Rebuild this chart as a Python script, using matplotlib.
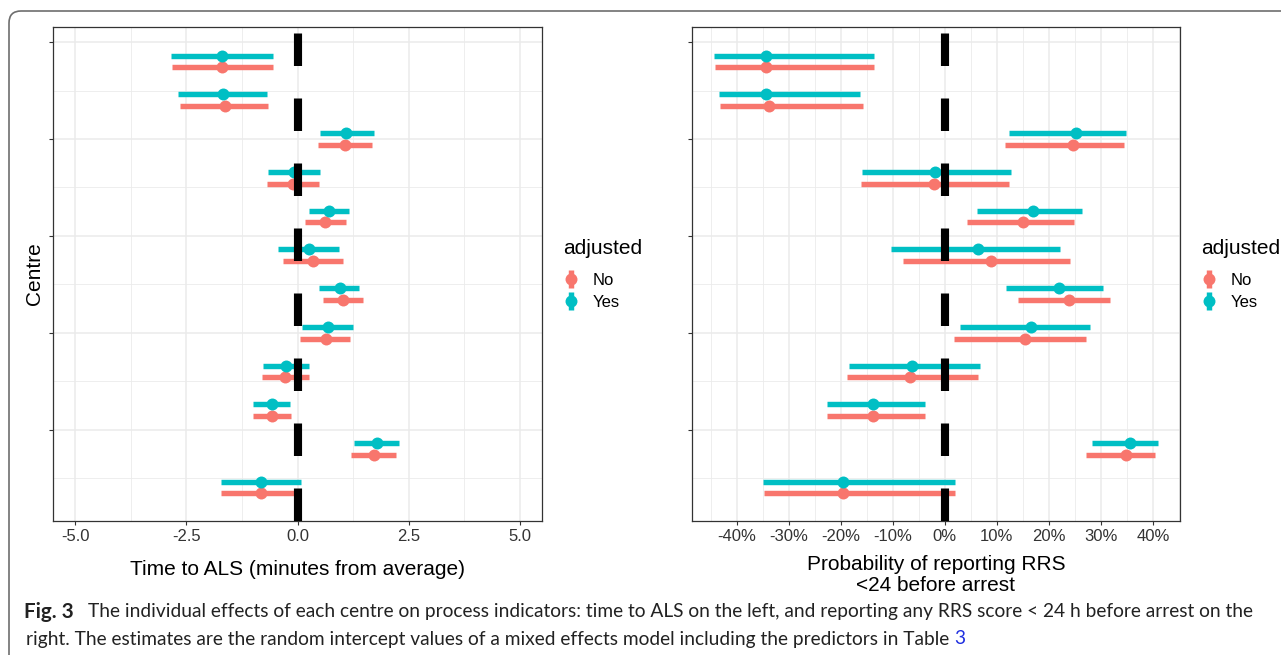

# Centre effects forest plot ---------------------------------------------

# Libraries
import numpy as np
import matplotlib
matplotlib.use("Agg")
import matplotlib.pyplot as plt

from matplotlib.lines import Line2D
from matplotlib.patches import FancyBboxPatch
from matplotlib.transforms import IdentityTransform


# Data (centres listed top to bottom) ------------------------------------
centres = [12, 11, 10, 9, 8, 7, 6, 5, 4, 3, 2, 1]
groups = ["No", "Yes"]

# Time to ALS (minutes from average)
als_no = [-1.69, -1.64, 1.07, -0.09, 0.61, 0.34, 1.02, 0.63, -0.27, -0.57, 1.71, -0.82]
als_no_lo = [-2.82, -2.64, 0.46, -0.69, 0.16, -0.33, 0.57, 0.06, -0.80, -0.99, 1.20, -1.72]
als_no_hi = [-0.56, -0.66, 1.67, 0.49, 1.08, 1.03, 1.48, 1.19, 0.26, -0.15, 2.21, 0.07]
als_yes = [-1.70, -1.68, 1.10, -0.07, 0.71, 0.26, 0.95, 0.68, -0.26, -0.57, 1.78, -0.82]
als_yes_lo = [-2.85, -2.68, 0.50, -0.67, 0.25, -0.43, 0.48, 0.10, -0.78, -0.99, 1.27, -1.73]
als_yes_hi = [-0.56, -0.69, 1.71, 0.51, 1.16, 0.94, 1.39, 1.25, 0.26, -0.16, 2.28, 0.08]

# Probability of reporting RRS < 24 h before arrest (%)
rrs_no = [-34.4, -33.8, 24.6, -2.1, 15.1, 8.9, 23.8, 15.5, -6.7, -13.8, 34.8, -19.5]
rrs_no_lo = [-44.2, -43.3, 11.6, -16.2, 4.2, -8.1, 14.0, 1.7, -18.8, -22.7, 27.1, -34.8]
rrs_no_hi = [-13.6, -15.7, 34.4, 12.4, 24.8, 24.0, 31.8, 27.1, 6.4, -3.8, 40.4, 1.9]
rrs_yes = [-34.4, -34.3, 25.3, -1.9, 17.0, 6.4, 22.0, 16.5, -6.3, -13.8, 35.6, -19.6]
rrs_yes_lo = [-44.4, -43.5, 12.4, -16.0, 6.1, -10.4, 11.8, 2.9, -18.5, -22.7, 28.2, -34.9]
rrs_yes_hi = [-13.6, -16.4, 34.8, 12.7, 26.4, 22.1, 30.4, 27.9, 6.7, -3.8, 40.9, 2.0]

als_ticks = [-5.0, -2.5, 0.0, 2.5, 5.0]
rrs_ticks = [-40, -30, -20, -10, 0, 10, 20, 30, 40]

caption_1 = ("The individual effects of each centre on process indicators: time to ALS "
             "on the left, and reporting any RRS score < 24 h before arrest on the")
caption_2 = ("right. The estimates are the random intercept values of a mixed effects "
             "model including the predictors in Table ")


# Setup ------------------------------------------------------------------
RED = "#F8766D"
TEAL = "#00BFC4"
GRID = "#EBEBEB"
DARK = "#333333"

plt.rcParams["font.family"] = "Liberation Sans"
plt.rcParams["axes.unicode_minus"] = False

W, H = 1281, 655
fig = plt.figure(figsize=(W / 100, H / 100), dpi=100)


def px_axes(x0, y0, x1, y1):
    return fig.add_axes([x0 / W, 1 - y1 / H, (x1 - x0) / W, (y1 - y0) / H])


def draw_panel(ax, no, no_lo, no_hi, yes, yes_lo, yes_hi, xlim, ticks, minor, fmt):
    y = np.array(centres, dtype=float)

    for vals, lo, hi, col, off in [(no, no_lo, no_hi, RED, -0.15),
                                   (yes, yes_lo, yes_hi, TEAL, 0.15)]:
        ax.hlines(y + off, lo, hi, color=col, lw=3.9, capstyle="butt", zorder=3)
        ax.plot(vals, y + off, "o", color=col, ms=8.6, mew=0, zorder=4)

    ax.axvline(0, color="black", lw=5.85, dashes=(4, 4), zorder=5)

    ax.set_xlim(*xlim)
    ax.set_ylim(0.14, 12.89)

    ax.set_xticks(ticks)
    ax.set_xticklabels([fmt(t) for t in ticks])
    ax.set_xticks(minor, minor=True)
    ax.set_yticks([2.5, 5.0, 7.5, 10.0, 12.5])
    ax.set_yticklabels([])
    ax.set_yticks([1.25, 3.75, 6.25, 8.75, 11.25], minor=True)

    ax.grid(which="major", color=GRID, lw=1.1)
    ax.grid(which="minor", color=GRID, lw=0.6)
    ax.set_axisbelow(True)

    ax.tick_params(which="major", length=3, width=0.8, color=DARK,
                   labelsize=12, labelcolor="#333333", pad=2.5)
    ax.tick_params(which="minor", length=0)
    for sp in ax.spines.values():
        sp.set_color(DARK)
        sp.set_linewidth(0.9)


def add_legend(ax, x_px, y_px):
    handles = [(Line2D([], [], ls="", marker="|", ms=13.5, mew=3.9, color=c),
                Line2D([], [], ls="", marker="o", ms=8.6, mew=0, color=c))
               for c in (RED, TEAL)]
    leg = ax.legend(handles, groups, title="adjusted", loc="upper left",
                    bbox_to_anchor=(x_px / W, 1 - y_px / H),
                    bbox_transform=fig.transFigure, frameon=False,
                    fontsize=12, title_fontsize=15, handlelength=1.0,
                    handletextpad=0.75, labelspacing=0.4, borderpad=0,
                    borderaxespad=0, alignment="left")
    # more room between the title and the keys, as in ggplot
    leg._legend_box.sep = 11


# Left panel
ax1 = px_axes(53, 27, 542, 521)
draw_panel(ax1, als_no, als_no_lo, als_no_hi, als_yes, als_yes_lo, als_yes_hi,
           (-5.5, 5.5), als_ticks, [-3.75, -1.25, 1.25, 3.75],
           lambda t: f"{t:.1f}")
ax1.set_xlabel("Time to ALS (minutes from average)", fontsize=15, labelpad=12)
ax1.set_ylabel("Centre", fontsize=15, labelpad=1)
add_legend(ax1, 563, 239)

# Right panel
ax2 = px_axes(692, 27, 1180, 521)
draw_panel(ax2, rrs_no, rrs_no_lo, rrs_no_hi, rrs_yes, rrs_yes_lo, rrs_yes_hi,
           (-48.6, 45.2), rrs_ticks, list(range(-45, 50, 10)),
           lambda t: f"{t:d}%")
ax2.set_xlabel("Probability of reporting RRS\n<24 before arrest", fontsize=15,
               labelpad=8, linespacing=1.12)
add_legend(ax2, 1201, 239)


# Outer frame
frame = FancyBboxPatch((9, -30), 1300, H - 11 + 30,
                       boxstyle="round,pad=0,rounding_size=12",
                       transform=IdentityTransform(), fill=False,
                       edgecolor="#6E6E6E", lw=1.2)
fig.add_artist(frame)


# Caption (size fitted to the original line width)
cap_font = "Lato"
renderer = fig.canvas.get_renderer()
t1 = fig.text(88 / W, 1 - 612 / H, caption_1, fontsize=12, family=cap_font,
              va="center", ha="left", color="#222222")
size = 12 * (1251 - 88) / t1.get_window_extent(renderer).width
t1.set_fontsize(size)
fig.text(24 / W, 1 - 612 / H, "Fig. 3", fontsize=size * 1.08, fontweight="bold",
         family=cap_font, va="center", ha="left", color="#222222")
t2 = fig.text(26 / W, 1 - 639 / H, caption_2, fontsize=size, family=cap_font,
              va="center", ha="left", color="#222222")
x_end = t2.get_window_extent(renderer).x1
fig.text(x_end / W, 1 - 639 / H, "3", fontsize=size, family=cap_font,
         va="center", ha="left", color="#1F2FE0")

fig.savefig("out.png", dpi=100)
